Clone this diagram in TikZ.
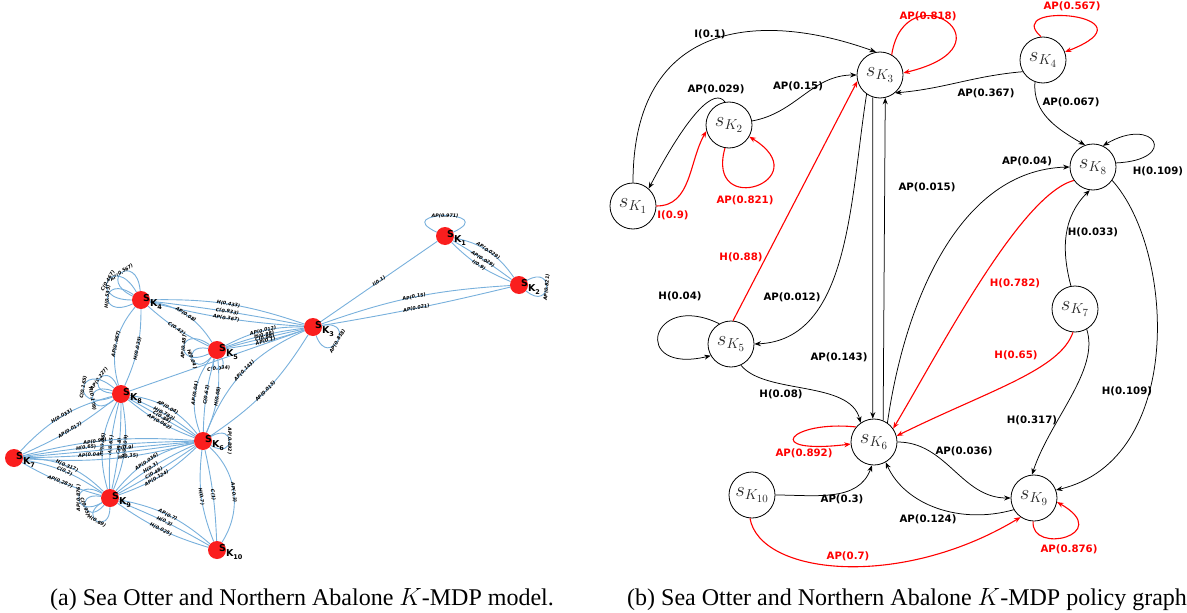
\documentclass[tikz,border=0pt]{standalone}
\usepackage{fontspec}
\setmainfont{Liberation Serif}
\newfontfamily\lblfont{DejaVu Sans}
\usetikzlibrary{arrows.meta,backgrounds}

\definecolor{edgeblue}{RGB}{120,176,220}
\definecolor{nodered}{RGB}{250,30,30}
\definecolor{polred}{RGB}{255,0,0}

% state label of the model graph: S with K and index below
\newcommand{\sk}[1]{{\lblfont\bfseries\fontsize{9.5}{10}\selectfont S\raisebox{-5pt}{K\raisebox{-3pt}{\fontsize{6.5}{7}\selectfont #1}}}}

\begin{document}
\begin{tikzpicture}[x=1pt,y=-1pt,
    st/.style={circle, draw, line width=0.8pt, minimum size=46pt, inner sep=0pt, text=black!85, font=\fontsize{21}{21}\selectfont},
    arr/.style={-{Stealth[length=6.5pt,width=5pt]}, line width=0.75pt},
    pol/.style={arr, draw=polred, line width=1.1pt},
    lbl/.style={font=\lblfont\bfseries\fontsize{10.2}{12}\selectfont, inner sep=0pt},
    rlbl/.style={lbl, text=polred},
    rn/.style={circle, fill=nodered, minimum size=18pt, inner sep=0pt},
    me/.style={draw=edgeblue, line width=0.9pt},
    el/.style={font=\lblfont\bfseries\itshape\fontsize{4.8}{5}\selectfont, sloped, inner sep=0pt},
    sn/.style={anchor=base west, inner sep=0pt},
    captxt/.style={anchor=base west, inner sep=0pt, font=\fontsize{24}{28}\selectfont}]

    \useasboundingbox (0,0) rectangle (1187,613);

    % (a) model graph
    \foreach \n/\x/\y in {1/445/236, 2/519/285, 3/313/327, 4/141/300, 5/217/350,
                          6/203/441, 7/14/458, 8/121/394, 9/110/498, 10/217/550}{
        \node[rn] (L\n) at (\x,\y) {};
        \node[sn] (T\n) at ([xshift=2pt,yshift=-1pt]L\n.center) {\sk{\n}};
    }

    \begin{scope}[on background layer]
        % K1, K2
        \draw[me] (L1) to[out=155,in=25,looseness=8] node[el]{AP(0.971)} (L1);
        \draw[me] (L1) to[bend left=22] node[el]{AP(0.029)} (L2);
        \draw[me] (L1) to[bend left=3] node[el]{AP(0.029)} (L2);
        \draw[me] (L1) to[bend right=11] node[el]{I(0.9)} (L2);
        \draw[me] (L1) -- node[el]{I(0.1)} (L3);
        \draw[me] (L2) to[out=30,in=-40,looseness=8] node[el]{AP(0.821)} (L2);
        \draw[me] (L3) to[bend left=8] node[el]{AP(0.15)} (L2);
        \draw[me] (L3) to[bend right=2] node[el]{AP(0.021)} (L2);
        % K3
        \draw[me] (L3) to[out=10,in=-70,looseness=8] node[el]{AP(0.818)} (L3);
        \draw[me] (L4) to[bend left=10] node[el]{H(0.433)} (L3);
        \draw[me] (L4) to[bend left=2] node[el]{C(0.933)} (L3);
        \draw[me] (L4) to[bend right=5] node[el]{AP(0.367)} (L3);
        \draw[me] (L5) to[bend left=14] node[el]{AP(0.012)} (L3);
        \draw[me] (L5) to[bend left=6] node[el]{H(0.88)} (L3);
        \draw[me] (L5) to[bend left=1] node[el]{C(0.98)} (L3);
        \draw[me] (L5) to[bend right=5] node[el]{AP(0.1)} (L3);
        \draw[me] (L8) -- (L3);
        \draw[me] (L6) to[bend left=22] node[el]{AP(0.143)} (L3);
        \draw[me] (L6) to[bend right=12] node[el]{AP(0.015)} (L3);
        % K4
        \draw[me] (L4) to[out=155,in=95,looseness=11] node[el]{AP(0.567)} (L4);
        \draw[me] (L4) to[out=180,in=120,looseness=13] node[el]{C(0.467)} (L4);
        \draw[me] (L4) to[out=205,in=145,looseness=11] node[el]{H(0.533)} (L4);
        \draw[me] (L4) to[bend left=24] node[el]{AP(0.08)} (L5);
        \draw[me] (L4) to[bend right=8] node[el]{C(0.42)} (L5);
        \draw[me] (L4) to[bend right=28] node[el]{AP(0.067)} (L8);
        \draw[me] (L4) to[bend left=12] node[el]{H(0.033)} (L8);
        % K5
        \draw[me] (L5) to[out=205,in=145,looseness=11] node[el]{AP(0.48)} (L5);
        \draw[me] (L5) to[out=230,in=170,looseness=8] node[el]{H(0.04)} (L5);
        \draw[me] (L5) to[out=300,in=250,looseness=5] node[el]{C(0.034)} (L5);
        \draw[me] (L5) to[bend right=29] node[el]{AP(0.04)} (L6);
        \draw[me] (L5) to[bend right=7] node[el]{C(0.62)} (L6);
        \draw[me] (L5) to[bend left=14] node[el]{H(0.08)} (L6);
        % K8
        \draw[me] (L8) to[out=175,in=115,looseness=8] node[el]{AP(0.227)} (L8);
        \draw[me] (L8) to[out=200,in=140,looseness=13] node[el]{C(0.165)} (L8);
        \draw[me] (L8) to[out=220,in=160,looseness=9] node[el]{H(0.109)} (L8);
        \draw[me] (L7) to[bend left=16] node[el]{H(0.033)} (L8);
        \draw[me] (L7) to[bend right=7] node[el]{AP(0.017)} (L8);
        \draw[me] (L8) to[bend left=21] node[el]{AP(0.04)} (L6);
        \draw[me] (L8) to[bend left=8] node[el]{H(0.782)} (L6);
        \draw[me] (L8) -- node[el]{C(0.88)} (L6);
        \draw[me] (L8) to[bend right=9] node[el]{AP(0.062)} (L6);
        \draw[me] (L8) to[bend right=22] node[el]{AP(0.86)} (L9);
        \draw[me] (L8) to[bend right=8] node[el]{H(0.65)} (L9);
        \draw[me] (L8) to[bend left=6] node[el]{C(0.8)} (L9);
        \draw[me] (L8) to[bend left=16] node[el]{H(0.109)} (L9);
        % K7
        \draw[me] (L7) to[bend left=9] node[el,pos=0.42]{AP(0.96)} (L6);
        \draw[me] (L7) to[bend left=4] node[el,pos=0.36]{H(0.65)} (L6);
        \draw[me] (L7) -- node[el,pos=0.6]{C(0.9)} (L6);
        \draw[me] (L7) to[bend right=4] node[el,pos=0.38]{AP(0.04)} (L6);
        \draw[me] (L7) to[bend right=9] node[el,pos=0.62]{H(0.35)} (L6);
        \draw[me] (L7) to[bend left=22] node[el]{H(0.317)} (L9);
        \draw[me] (L7) to[bend left=12] node[el]{C(0.2)} (L9);
        \draw[me] (L7) to[bend right=7] node[el]{AP(0.287)} (L9);
        % K6
        \draw[me] (L6) to[out=30,in=-30,looseness=8] node[el]{AP(0.892)} (L6);
        \draw[me] (L9) to[bend left=19] node[el,pos=0.45]{AP(0.036)} (L6);
        \draw[me] (L9) to[bend left=7] node[el,pos=0.45]{H(0.3)} (L6);
        \draw[me] (L9) to[bend right=3] node[el,pos=0.45]{C(0.48)} (L6);
        \draw[me] (L9) to[bend right=12] node[el,pos=0.45]{AP(0.124)} (L6);
        \draw[me] (L6) to[bend right=14] node[el]{H(0.7)} (L10);
        \draw[me] (L6) to[bend left=5] node[el]{C(1)} (L10);
        \draw[me] (L6) to[bend left=40] node[el]{AP(0.3)} (L10);
        % K9
        \draw[me] (L9) to[out=210,in=150,looseness=10] node[el]{AP(0.876)} (L9);
        \draw[me] (L9) to[out=230,in=170,looseness=8] node[el]{C(0.95)} (L9);
        \draw[me] (L9) to[out=270,in=210,looseness=8] node[el]{H(0.69)} (L9);
        \draw[me] (L9) to[bend left=15] node[el]{AP(0.7)} (L10);
        \draw[me] (L9) to[bend left=4] node[el]{H(0.3)} (L10);
        \draw[me] (L9) to[bend right=9] node[el]{H(0.025)} (L10);
    \end{scope}

    % (b) policy graph
    \node[st] (K1) at (633,206) {$s_{K_1}$};
    \node[st] (K2) at (729,125) {$s_{K_2}$};
    \node[st] (K3) at (880,75) {$s_{K_3}$};
    \node[st] (K4) at (1043,60) {$s_{K_4}$};
    \node[st] (K8) at (1093,167) {$s_{K_8}$};
    \node[st] (K5) at (731,344) {$s_{K_5}$};
    \node[st] (K7) at (1075,309) {$s_{K_7}$};
    \node[st] (K6) at (874,442) {$s_{K_6}$};
    \node[st] (K10) at (752,495) {$s_{K_{10}}$};
    \node[st] (K9) at (1034,498) {$s_{K_9}$};

    \draw[arr] (K1) .. controls (633,20) and (760,10) .. (K3.100) node[lbl] at (710,34) {I(0.1)};
    \draw[pol] (K1) to[out=0,in=240] (K2.195) node[rlbl] at (673,215) {I(0.9)};
    \draw[arr] (K2.100) .. controls (715,88) and (690,110) .. (K1.48) node[lbl] at (716,89) {AP(0.029)};
    \draw[pol] (K2.260) .. controls (705,220) and (820,180) .. (K2.-30) node[rlbl] at (745,200) {AP(0.821)};
    \draw[arr] (K2) to[out=10,in=180] (K3) node[lbl] at (798,86) {AP(0.15)};
    \draw[pol] (K3.60) .. controls (905,-30) and (1020,45) .. (K3.5) node[rlbl] at (928,16) {AP(0.818)};
    \draw[pol] (K4.95) .. controls (1000,0) and (1160,15) .. (K4.20) node[rlbl] at (1072,6) {AP(0.567)};
    \draw[arr] (K4.210) to[out=185,in=5] (K3.-50) node[lbl] at (986,93) {AP(0.367)};
    \draw[arr] (K4.250) to[out=265,in=150] (K8.110) node[lbl] at (1071,102) {AP(0.067)};
    \draw[arr] (K8.10) .. controls (1180,160) and (1155,115) .. (K8.65) node[lbl] at (1158,171) {H(0.109)};
    \draw[arr] (K6.55) .. controls (905,300) and (960,170) .. (K8.west) node[lbl] at (1027,161) {AP(0.04)};
    \draw[pol] (K8.215) .. controls (1020,195) and (940,350) .. (K6.35) node[rlbl] at (1015,283) {H(0.782)};
    \draw[arr] (K7.100) to[out=105,in=225] (K8.262) node[lbl] at (1093,232) {H(0.033)};
    \draw[pol] (K7.265) .. controls (1060,370) and (990,390) .. (K6.15) node[rlbl] at (1016,355) {H(0.65)};
    \draw[arr] (K7.-60) .. controls (1100,370) and (1050,420) .. (K9.95) node[lbl] at (1032,420) {H(0.317)};
    \draw[arr] (K8.-35) .. controls (1175,250) and (1185,460) .. (K9.20) node[lbl] at (1127,391) {H(0.109)};
    \draw[arr] (K3.235) .. controls (850,200) and (850,340) .. (K5.east) node[lbl] at (792,297) {AP(0.012)};
    \draw[pol] (K5.85) -- (K3.195) node[rlbl] at (741,257) {H(0.88)};
    \draw[arr] (K5.120) .. controls (650,290) and (630,375) .. (K5.210) node[lbl] at (680,296) {H(0.04)};
    \draw[arr] (K5.-65) .. controls (765,395) and (850,380) .. (K6.125) node[lbl] at (781,394) {H(0.08)};
    \draw[arr] (K3.252) -- (K6.93) node[lbl] at (839,357) {AP(0.143)};
    \draw[arr] (K6.67) -- (K3.283) node[lbl] at (927,187) {AP(0.015)};
    \draw[pol] (K6.140) .. controls (790,420) and (760,455) .. (K6.185) node[rlbl] at (804,453) {AP(0.892)};
    \draw[arr] (K10) to[out=0,in=250] (K6.265) node[lbl] at (842,499) {AP(0.3)};
    \draw[arr] (K6) to[out=0,in=180] (K9) node[lbl] at (964,451) {AP(0.036)};
    \draw[arr] (K9.210) .. controls (960,525) and (905,505) .. (K6.-60) node[lbl] at (928,519) {AP(0.124)};
    \draw[pol] (K9.268) .. controls (1030,555) and (1115,535) .. (K9.-10) node[rlbl] at (1069,549) {AP(0.876)};
    \draw[pol] (K10.265) .. controls (760,575) and (900,590) .. (K9.235) node[rlbl] at (848,556) {AP(0.7)};

    % captions
    \node[captxt] (capa) at (50,605) {(a) Sea Otter and Northern Abalone $K$-MDP model.};
    \node[captxt] (capb) at (627,605) {(b) Sea Otter and Northern Abalone $K$-MDP policy graph};
\end{tikzpicture}
\end{document}
